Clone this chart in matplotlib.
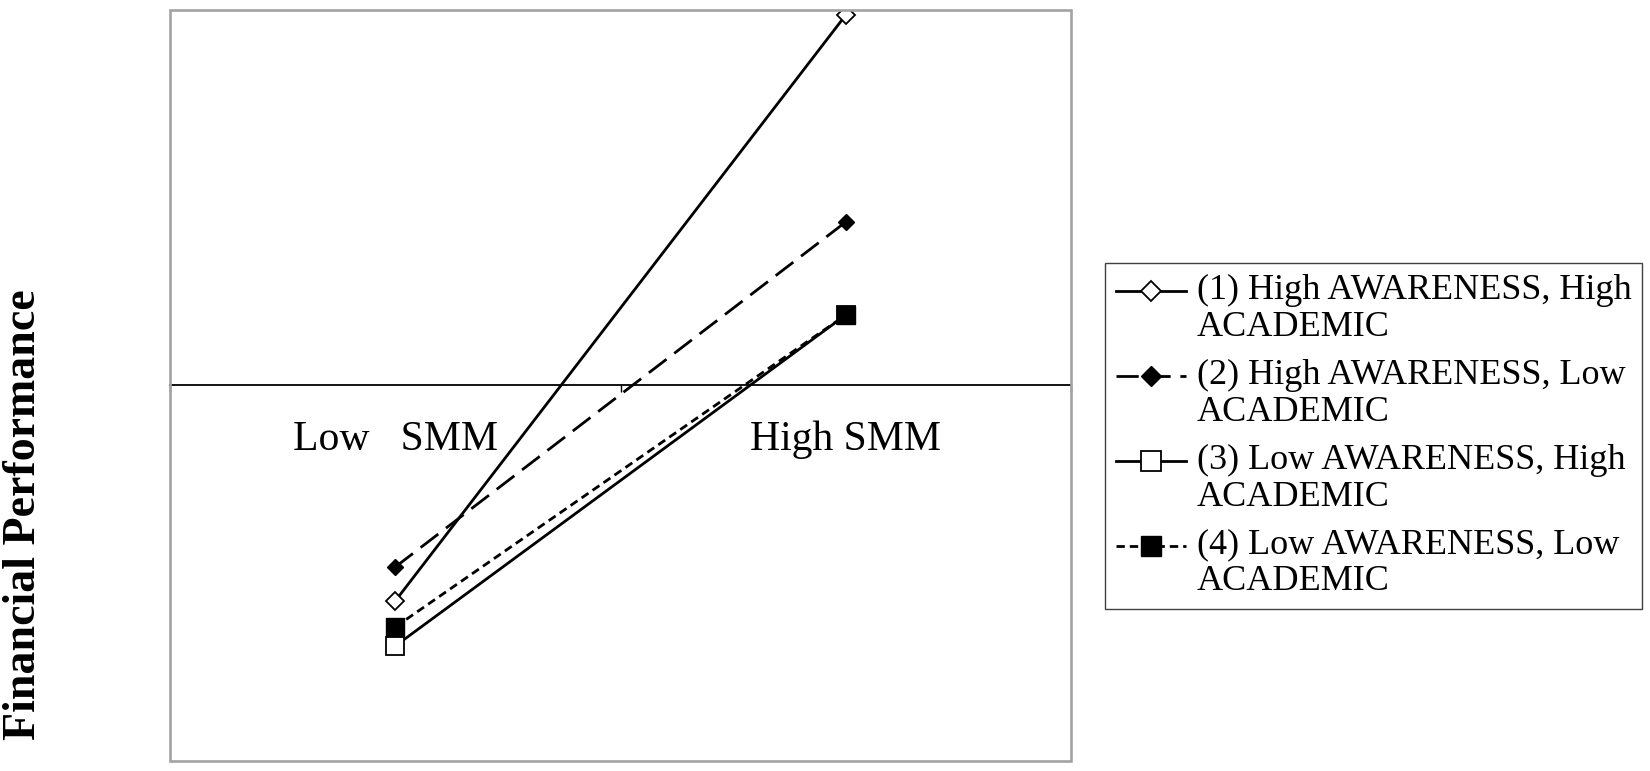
import numpy as np
import matplotlib
matplotlib.use("Agg")
import matplotlib.pyplot as plt
from matplotlib.patches import Rectangle
from matplotlib.lines import Line2D
from matplotlib.legend_handler import HandlerLine2D

plt.rcParams['font.family'] = ['Liberation Serif', 'DejaVu Serif']

# data
categories = ['Low   SMM', 'High SMM']
series_labels = [
    '(1) High AWARENESS, High\nACADEMIC',
    '(2) High AWARENESS, Low\nACADEMIC',
    '(3) Low AWARENESS, High\nACADEMIC',
    '(4) Low AWARENESS, Low\nACADEMIC',
]
hi_aw_hi_ac = [-2.16, 3.70]
hi_aw_lo_ac = [-1.82, 1.63]
lo_aw_hi_ac = [-2.61, 0.70]
lo_aw_lo_ac = [-2.42, 0.70]

LEG_FS = 26
LEG_LS = 1.15


# legend handle sits on the first line of a two-line label
class FirstLineHandler(HandlerLine2D):
    def create_artists(self, legend, orig_handle, xdescent, ydescent,
                       width, height, fontsize, trans):
        arts = super().create_artists(legend, orig_handle, xdescent, ydescent,
                                      width, height, fontsize, trans)
        shift = 0.5 * LEG_LS * 0.836 * fontsize
        for a in arts:
            a.set_ydata(np.asarray(a.get_ydata()) + shift)
        return arts


fig = plt.figure(figsize=(16.5, 7.71), dpi=100)
ax = fig.add_axes([170 / 1650, 1 - 761 / 771, 901 / 1650, 751 / 771])

x = np.arange(1, len(categories) + 1)

ax.plot(x, hi_aw_hi_ac, color='black', lw=2, marker='D', ms=9,
        mfc='white', mec='black', mew=1.3, label=series_labels[0], zorder=3)
ax.plot(x, hi_aw_lo_ac, color='black', lw=2, ls=(0, (8, 3.5)), marker='D', ms=8.5,
        mfc='black', mec='black', label=series_labels[1], zorder=3)
ax.plot(x, lo_aw_hi_ac, color='black', lw=2, marker='s', ms=13,
        mfc='white', mec='black', mew=1.3, label=series_labels[2], zorder=3)
ax.plot(x, lo_aw_lo_ac, color='black', lw=2, ls=(0, (3, 1.8)), marker='s', ms=13,
        mfc='black', mec='black', label=series_labels[3], zorder=4)

ax.set_xlim(0.5, 2.5)
ax.set_ylim(-3.76, 3.75)

# grey plot-area border, category axis crossing at zero
ax.add_patch(Rectangle((0, 0), 1, 1, transform=ax.transAxes, fill=False,
                       edgecolor='#a3a3a3', lw=1.9, clip_on=False, zorder=5))
for side in ['top', 'left', 'right']:
    ax.spines[side].set_visible(False)
ax.spines['bottom'].set_position(('data', 0))
ax.spines['bottom'].set_linewidth(1.3)
ax.spines['bottom'].set_color('black')

ax.set_xticks(x, categories)
ax.set_xticks([0.5, 1.5, 2.5], minor=True)
ax.tick_params(axis='x', which='major', length=0, pad=25.5, labelsize=30)
ax.tick_params(axis='x', which='minor', length=5, width=1, color='black')
ax.set_yticks([])

fig.text(24.5 / 1650, 1 - 515 / 771, 'Financial Performance', rotation=90,
         fontsize=33, fontweight='bold', ha='center', va='center')

handles, labels = ax.get_legend_handles_labels()
leg = fig.legend(handles, labels, loc='upper left',
                 bbox_to_anchor=(1105 / 1650, 1 - 263 / 771),
                 bbox_transform=fig.transFigure, borderaxespad=0,
                 fontsize=LEG_FS, numpoints=1, handlelength=1.95,
                 handletextpad=0.29, borderpad=0.3, labelspacing=0.42,
                 markerscale=1.15,
                 fancybox=False, framealpha=1, edgecolor='#404040',
                 handler_map={Line2D: FirstLineHandler()})
leg.get_frame().set_linewidth(1.0)
for t in leg.get_texts():
    t.set_linespacing(LEG_LS)

fig.savefig('out.png', dpi=100, facecolor='white')
